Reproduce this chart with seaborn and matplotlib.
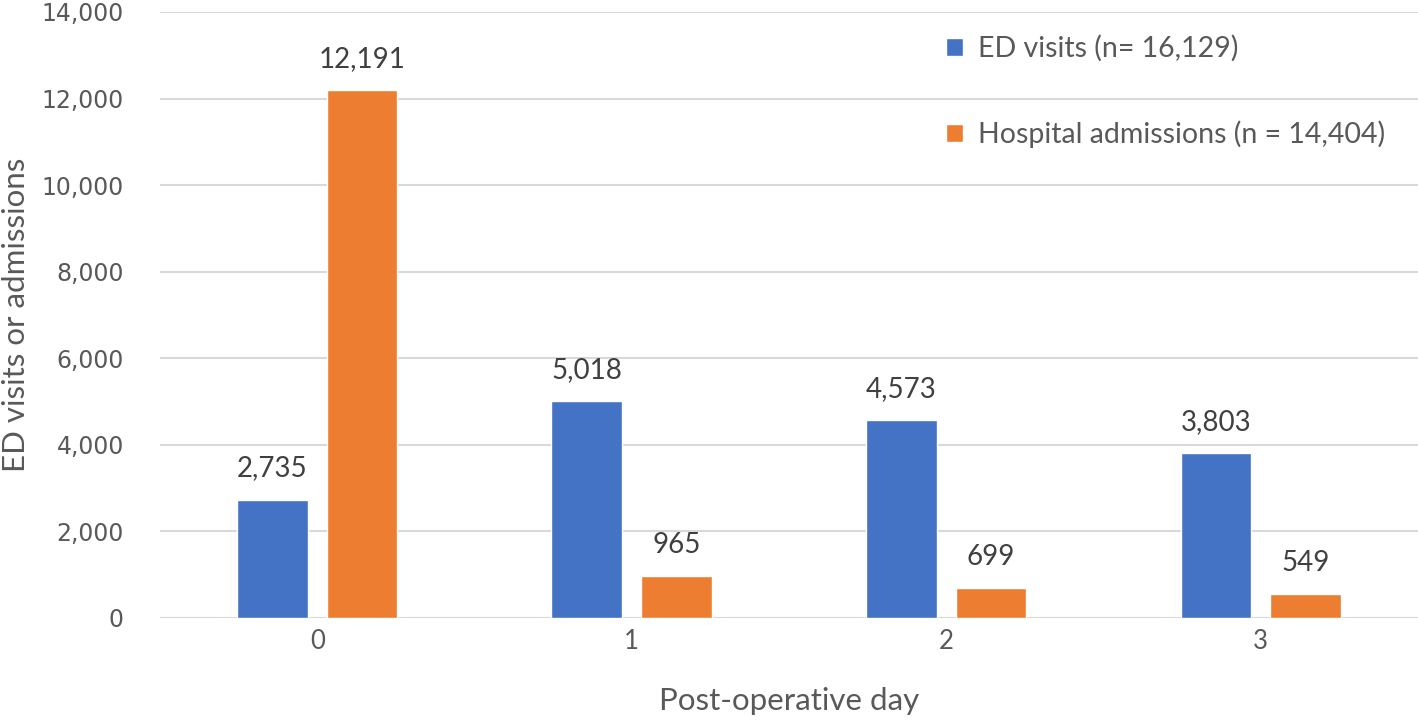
import matplotlib
matplotlib.use("Agg")
import matplotlib.pyplot as plt
import pandas as pd
import seaborn as sns

days = ["0", "1", "2", "3"]
ed_visits = [2735, 5018, 4573, 3803]
admissions = [12191, 965, 699, 549]
series_names = ["ED visits (n= 16,129)", "Hospital admissions (n = 14,404)"]
colors = ["#4472C4", "#ED7D31"]

df = pd.DataFrame({
    "day": days * 2,
    "count": ed_visits + admissions,
    "series": [series_names[0]] * 4 + [series_names[1]] * 4,
})

sns.set_style("white")
plt.rcParams["font.family"] = ["Lato", "DejaVu Sans"]

fig = plt.figure(figsize=(14.18, 7.27), dpi=100)
ax = fig.add_axes([0.1128, 0.150, 0.8872, 0.8335])

sns.barplot(data=df, x="day", y="count", hue="series", palette=colors,
            width=0.57, gap=0.21, ax=ax, saturation=1)

ax.set_xlim(-0.5, 3.5)
ax.set_ylim(0, 14000)
ax.set_yticks(range(0, 14001, 2000))
ax.set_yticklabels([f"{v:,}" for v in range(0, 14001, 2000)],
                   fontsize=17, color="#595959", family="DejaVu Sans")
ax.tick_params(axis="x", labelsize=18.5, labelcolor="#595959", length=0, pad=8)
ax.tick_params(axis="y", length=0, pad=26)
ax.yaxis.grid(True, color="#d9d9d9", linewidth=1.5)
ax.set_axisbelow(True)
for s in ax.spines.values():
    s.set_visible(False)

ax.set_xlabel("Post-operative day", fontsize=22.5, color="#595959", labelpad=24)
ax.set_ylabel("ED visits or admissions", fontsize=22.5, color="#595959", labelpad=8)

for c in ax.containers:
    ax.bar_label(c, labels=[f"{v:,.0f}" for v in c.datavalues],
                 padding=13, fontsize=20, color="#404040")

leg = ax.legend(loc="upper right", bbox_to_anchor=(0.994, 1.004), frameon=False,
                fontsize=20.5, labelspacing=2.05, handlelength=0.6, handleheight=0.6,
                handletextpad=0.5)
for t in leg.get_texts():
    t.set_color("#595959")

plt.savefig("out.png", dpi=100)
